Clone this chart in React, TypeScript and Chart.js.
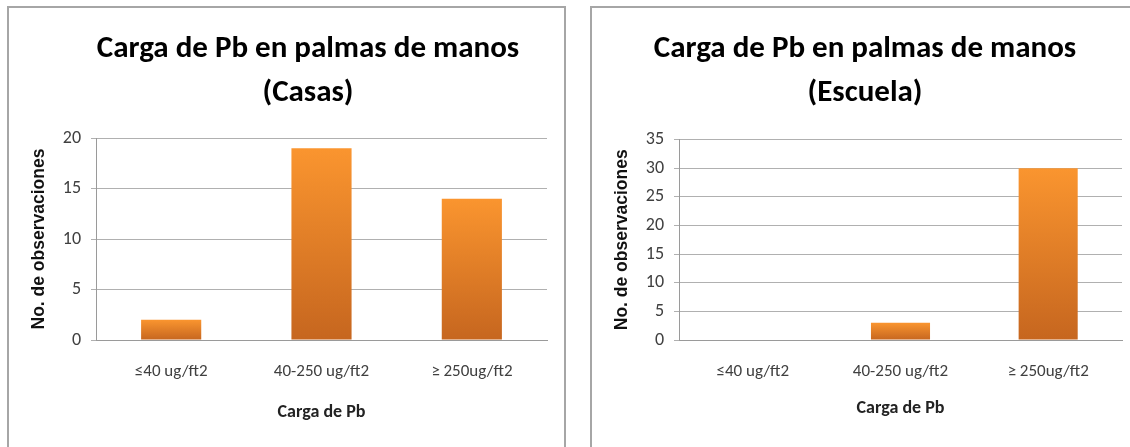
import React, { useEffect, useRef } from "react";
import { Chart, registerables } from "chart.js";

Chart.register(...registerables);

// ---- data ----
const categories = ["≤40 ug/ft2", "40-250 ug/ft2", "≥ 250ug/ft2"];
const casasValues = [2, 19, 14];
const escuelaValues = [0, 3, 30];
const casasTitle = ["Carga de Pb en palmas de manos", "(Casas)"];
const escuelaTitle = ["Carga de Pb en palmas de manos", "(Escuela)"];
const yAxisTitle = "No. de observaciones";
const xAxisTitle = "Carga de Pb";
const casasMax = 20;
const escuelaMax = 35;
const tickStep = 5;

const CAL = "Carlito, 'Liberation Sans Narrow', 'Open Sans', sans-serif";

type Props = {
  labels: string[];
  values: number[];
  title: string[];
  max: number;
  canvasW: number;
  canvasH: number;
  rightSpace: number;
  titleBottom: number;
  xTitleBottom: number;
};

function BarPanel({ labels, values, title, max, canvasW, canvasH, rightSpace, titleBottom, xTitleBottom }: Props) {
  const ref = useRef<HTMLCanvasElement | null>(null);
  useEffect(() => {
    if (!ref.current) return;
    const chart = new Chart(ref.current, {
      type: "bar",
      data: {
        labels,
        datasets: [
          {
            data: values,
            yAxisID: "y",
            categoryPercentage: 1,
            barPercentage: 0.4,
            borderWidth: 0,
            backgroundColor: (ctx: any) => {
              const ch = ctx.chart;
              const ys = ch.scales && ch.scales.y;
              const v = ctx.parsed ? ctx.parsed.y : 0;
              if (!ys || !ch.chartArea || !v) return "#E8822A";
              const top = ys.getPixelForValue(v);
              const bot = ys.getPixelForValue(0);
              const g = ch.ctx.createLinearGradient(0, top, 0, bot);
              g.addColorStop(0, "#FA952F");
              g.addColorStop(1, "#C6661F");
              return g;
            },
          },
        ],
      },
      options: {
        responsive: false,
        animation: false,
        layout: { padding: 0 },
        plugins: {
          legend: { display: false },
          tooltip: { enabled: false },
          title: {
            display: true,
            text: title,
            color: "#000",
            font: { family: CAL, size: 31, weight: "bold", lineHeight: 1.42 },
            padding: { top: 19.5, bottom: titleBottom },
          },
        },
        scales: {
          x: {
            grid: { display: false, drawTicks: false },
            border: { display: true, color: "#9A9A9A" },
            ticks: { color: "#404040", font: { family: CAL, size: 17 }, padding: 22 },
            title: {
              display: true,
              text: xAxisTitle,
              color: "#222",
              font: { family: CAL, size: 18, weight: "bold" },
              padding: { top: 10, bottom: xTitleBottom },
            },
            afterFit: (s: any) => {
              s.height = 107;
            },
          },
          y: {
            min: 0,
            max,
            ticks: { stepSize: tickStep, color: "#404040", font: { family: CAL, size: 18 }, padding: 10 },
            grid: { color: "#B0B0B0", tickLength: 5, lineWidth: 1 },
            border: { display: true, color: "#9A9A9A" },
            title: {
              display: true,
              text: yAxisTitle,
              color: "#111",
              font: { family: "'Liberation Sans', Arial, sans-serif", size: 17.5, weight: "bold" },
              padding: { top: 20, bottom: 4 },
            },
            afterFit: (s: any) => {
              s.width = 87;
            },
          },
          y2: {
            type: "linear",
            position: "right",
            display: true,
            grid: { display: false, drawTicks: false },
            border: { display: false },
            ticks: { display: false },
            afterFit: (s: any) => {
              s.width = rightSpace;
            },
          },
        },
      } as any,
    });
    return () => chart.destroy();
  }, []);
  return (
    <canvas
      ref={ref}
      width={canvasW}
      height={canvasH}
      style={{ display: "block", position: "absolute", left: 0, top: 0 }}
    />
  );
}

export default function App() {
  return (
    <div
      style={{
        position: "fixed",
        left: 0,
        top: 0,
        width: 1130,
        height: 447,
        overflow: "hidden",
        background: "#fff",
      }}
    >
      <div
        style={{
          position: "absolute",
          left: 7,
          top: 6,
          width: 555,
          height: 470,
          border: "2px solid #A6A6A6",
        }}
      />
      <div
        style={{
          position: "absolute",
          left: 590,
          top: 6,
          width: 560,
          height: 470,
          border: "2px solid #A6A6A6",
        }}
      />
      <div style={{ position: "absolute", left: 9, top: 8, width: 598, height: 439 }}>
        <BarPanel
          labels={categories}
          values={casasValues}
          title={casasTitle}
          max={casasMax}
          canvasW={598}
          canvasH={439}
          rightSpace={60}
          titleBottom={22.5}
          xTitleBottom={24}
        />
      </div>
      <div style={{ position: "absolute", left: 592, top: 8, width: 546, height: 439 }}>
        <BarPanel
          labels={categories}
          values={escuelaValues}
          title={escuelaTitle}
          max={escuelaMax}
          canvasW={546}
          canvasH={439}
          rightSpace={16}
          titleBottom={24}
          xTitleBottom={28}
        />
      </div>
    </div>
  );
}
